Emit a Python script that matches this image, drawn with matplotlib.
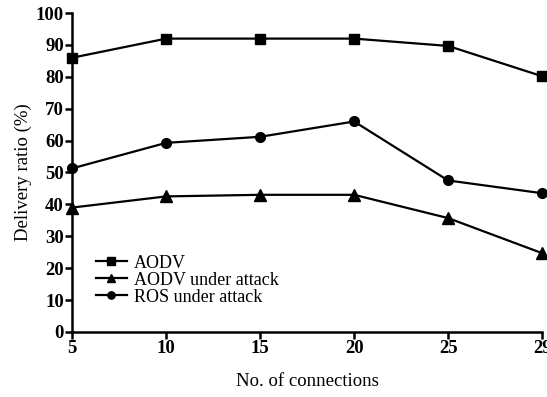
import matplotlib
matplotlib.use("Agg")
import matplotlib.pyplot as plt

connections = ["5", "10", "15", "20", "25", "29"]
aodv = [86, 92, 92, 92, 89.7, 80.2]
aodv_attack = [39, 42.5, 43, 43, 35.7, 24.7]
ros_attack = [51.3, 59.3, 61.2, 66, 47.5, 43.5]
yticks = list(range(0, 101, 10))

plt.rcParams['font.family'] = ['Liberation Serif', 'DejaVu Serif']

fig = plt.figure(figsize=(5.47, 3.97), dpi=100)
ax = fig.add_axes([0.132, 0.164, 0.859, 0.803])
x = list(range(len(connections)))
kw = dict(color='black', lw=1.6, clip_on=False, zorder=3)
ax.plot(x, aodv, marker='s', ms=7, label='AODV', **kw)
ax.plot(x, aodv_attack, marker='^', ms=8, label='AODV under attack', **kw)
ax.plot(x, ros_attack, marker='o', ms=7, label='ROS under attack', **kw)

ax.set_xlim(0, len(connections) - 1)
ax.set_ylim(0, 100)
ax.set_xticks(x)
ax.set_xticklabels(connections, fontweight='bold', fontsize=13.5)
ax.set_yticks(yticks)
ax.set_yticklabels([str(v) for v in yticks], fontweight='bold', fontsize=13.5)
for s in ['top', 'right']:
    ax.spines[s].set_visible(False)
for s in ['left', 'bottom']:
    ax.spines[s].set_linewidth(1.8)
ax.tick_params(axis='both', direction='out', length=5, width=1.8, pad=1)
ax.set_xlabel('No. of connections', fontsize=13.5, labelpad=11)
ax.set_ylabel('Delivery ratio (%)', fontsize=13.5, labelpad=3)
ax.legend(loc='lower left', bbox_to_anchor=(0.035, 0.06), frameon=False,
          fontsize=13, handlelength=1.7, handletextpad=0.4, labelspacing=0.0,
          borderaxespad=0, markerscale=0.75)
fig.savefig('out.png', dpi=100)
